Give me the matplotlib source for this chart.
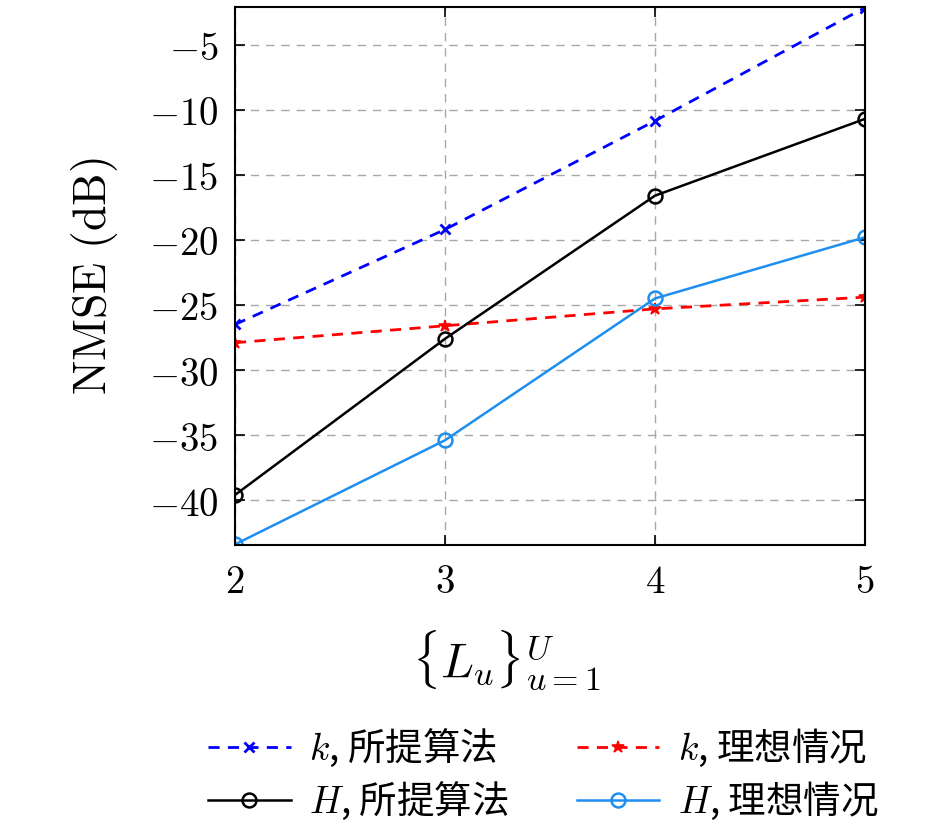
import numpy as np
import matplotlib.pyplot as plt
from matplotlib.ticker import FuncFormatter

# NMSE vs number of paths per user
L = [2, 3, 4, 5]
k_prop = [-26.5, -19.2, -10.85, -2.15]
k_ideal = [-27.9, -26.6, -25.3, -24.4]
H_prop = [-39.6, -27.6, -16.6, -10.7]
H_ideal = [-43.4, -35.4, -24.5, -19.8]
y_ticks = [-40, -35, -30, -25, -20, -15, -10, -5]

plt.rcParams['font.family'] = ['Noto Sans CJK SC', 'DejaVu Serif']
plt.rcParams['mathtext.fontset'] = 'cm'

fig = plt.figure(figsize=(9.45, 8.33), dpi=100)
ax = fig.add_axes([0.2487, 0.3457, 0.6666, 0.6459])

l1, = ax.plot(L, k_prop, '--x', color='#0000ff', lw=2.0, ms=7, mew=2.0, dashes=(4, 3), label=r'$k$, 所提算法')
l2, = ax.plot(L, k_ideal, '--*', color='#ff0000', lw=2.0, ms=9, mew=1.2, dashes=(4, 3), label=r'$k$, 理想情况')
l3, = ax.plot(L, H_prop, '-o', color='black', lw=1.8, ms=10, mfc='none', mew=1.8, label=r'$H$, 所提算法')
l4, = ax.plot(L, H_ideal, '-o', color='#1e8ff0', lw=1.8, ms=10, mfc='none', mew=1.8, label=r'$H$, 理想情况')

ax.set_xlim(2, 5)
ax.set_ylim(-43.45, -2.1)
ax.set_xticks(L)
ax.set_yticks(y_ticks)
ax.xaxis.set_major_formatter(FuncFormatter(lambda v, p: f'${v:g}$'))
ax.yaxis.set_major_formatter(FuncFormatter(lambda v, p: f'${v:g}$'))
ax.tick_params(direction='in', top=True, right=True, length=7, width=1.2, labelsize=28, pad=12)
ax.grid(True, ls=(0, (6, 5)), color='#a8a8a8', lw=1.0)
for s in ax.spines.values():
    s.set_linewidth(1.5)

ax.set_ylabel(r'$\mathrm{NMSE\ (dB)}$', fontsize=33)
ax.yaxis.set_label_coords(-0.183, 0.5)
ax.set_xlabel(r'$\{L_u\}_{u=1}^{U}$', fontsize=35)
ax.xaxis.set_label_coords(0.43, -0.156)

fig.legend([l1, l3, l2, l4], [l.get_label() for l in (l1, l3, l2, l4)],
           loc='upper center', bbox_to_anchor=(0.575, 0.168), ncol=2, frameon=False,
           fontsize=27, handlelength=2.2, columnspacing=1.8, handletextpad=0.5,
           labelspacing=0.3)

fig.savefig('out.png', dpi=100)
